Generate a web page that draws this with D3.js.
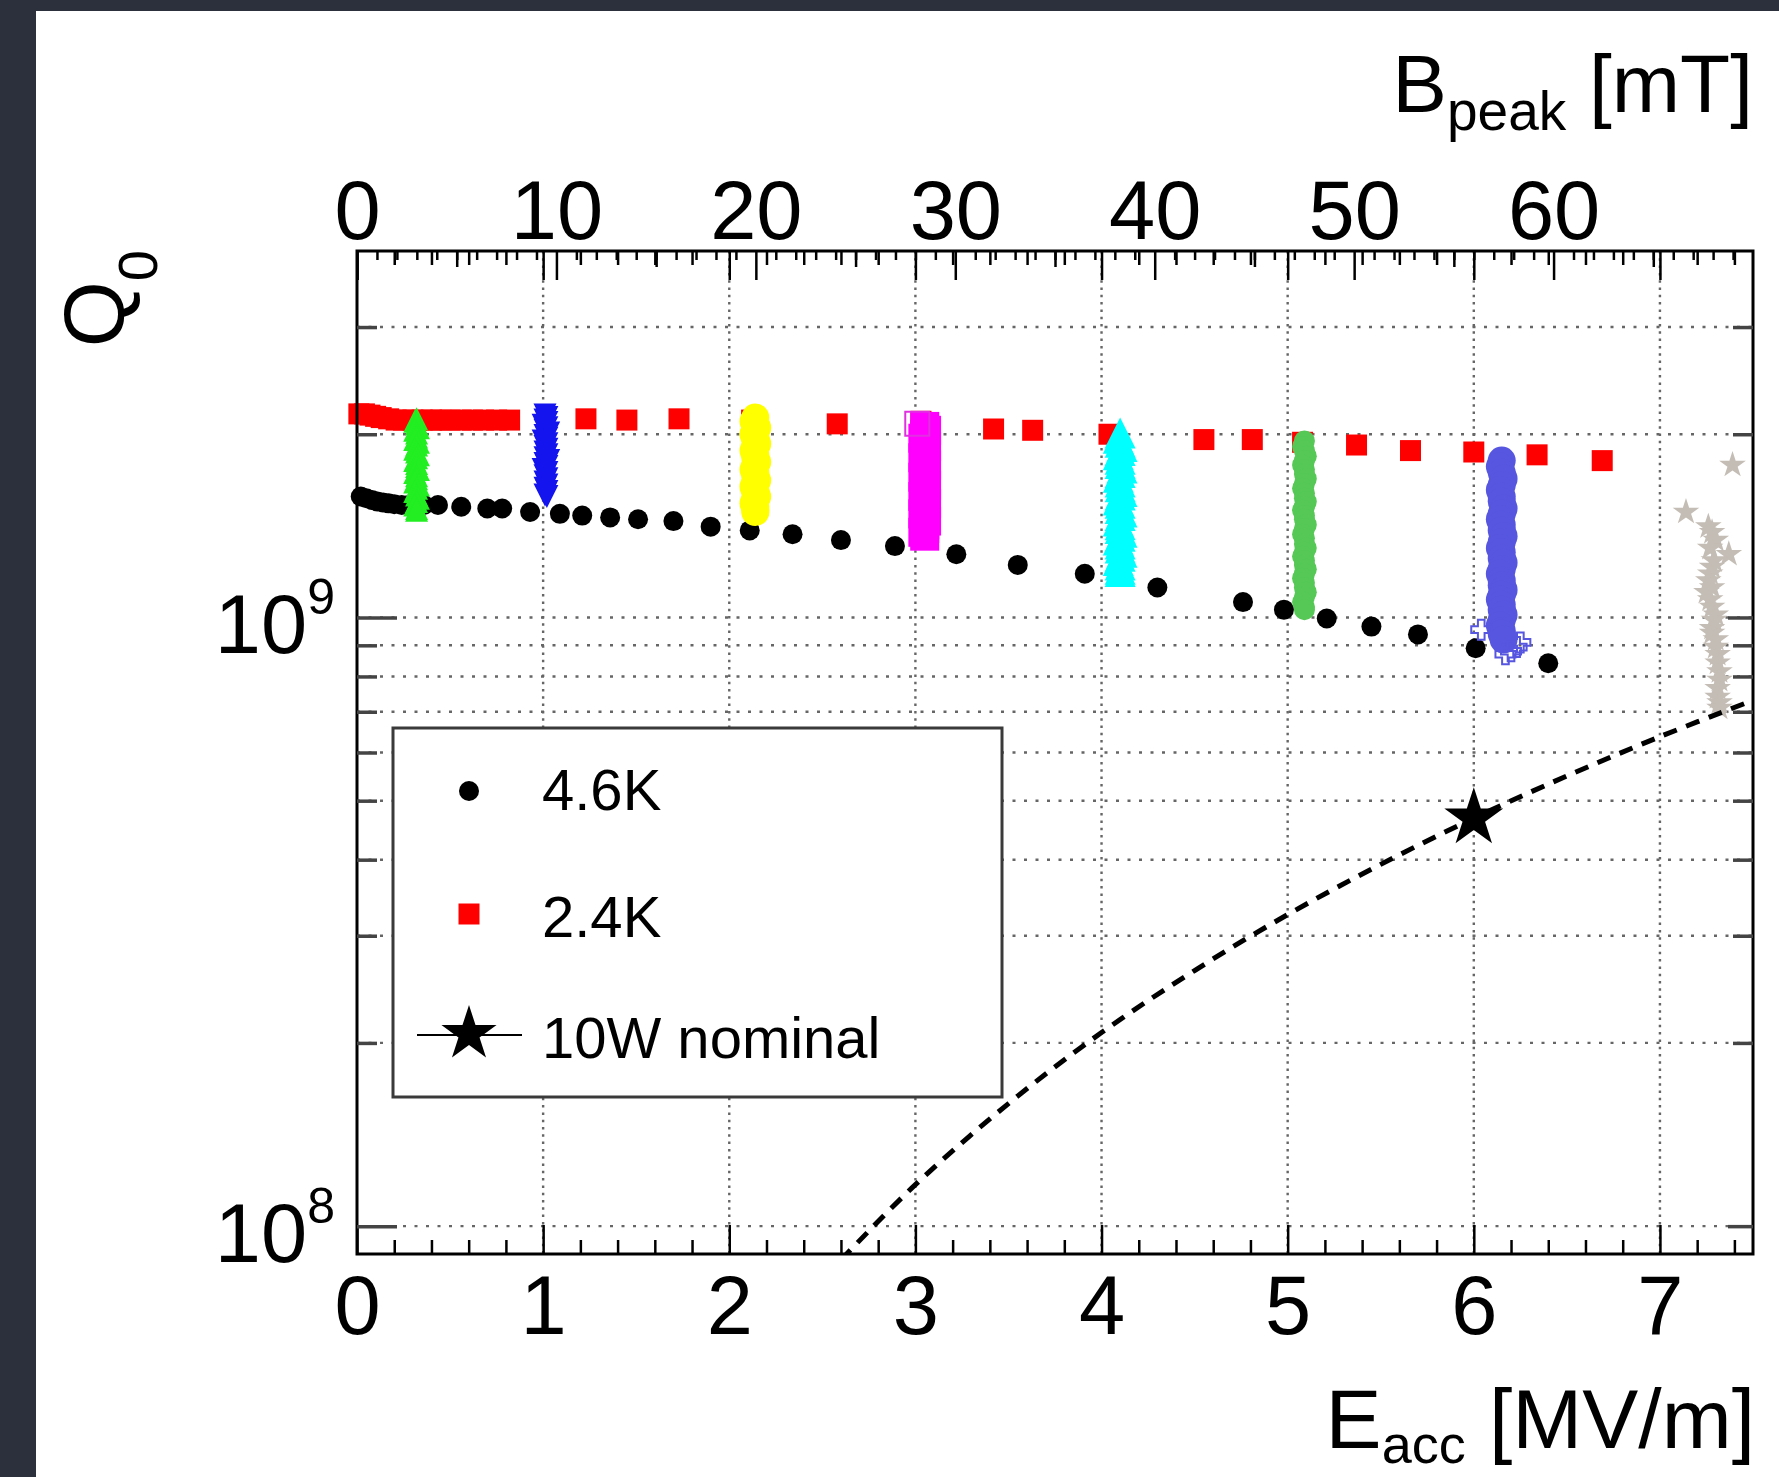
<!DOCTYPE html>
<html>
<head>
<meta charset="utf-8">
<script src="https://cdn.jsdelivr.net/npm/d3@7"></script>
<style>
  body { margin: 0; background: #2b303c; }
  svg { display: block; }
</style>
</head>
<body>
<div id="chart-area"></div>
<script>
// Q0 values below are in units of 1e9
var eTicks = [0, 1, 2, 3, 4, 5, 6, 7];
var bTicks = [0, 10, 20, 30, 40, 50, 60];
var qLabelTicks = [1e8, 1e9];
var qGrid = [1e8, 2e8, 3e8, 4e8, 5e8, 6e8, 7e8, 8e8, 9e8, 1e9, 2e9, 3e9];
var eGrid = [1, 2, 3, 4, 5, 6, 7];

// 4.6K
var e46 = [0.02, 0.05, 0.08, 0.11, 0.14, 0.17, 0.20, 0.24, 0.28, 0.32, 0.36, 0.435, 0.56, 0.70, 0.78, 0.93,
           1.09, 1.21, 1.36, 1.51, 1.70, 1.90, 2.11, 2.34, 2.60, 2.89, 3.22, 3.55, 3.91, 4.30, 4.76, 4.98,
           5.21, 5.45, 5.70, 6.01, 6.40];
var q46 = [1.58, 1.57, 1.56, 1.55, 1.545, 1.54, 1.535, 1.53, 1.53, 1.53, 1.53, 1.53, 1.52, 1.51, 1.51, 1.49,
           1.48, 1.47, 1.46, 1.45, 1.44, 1.41, 1.39, 1.37, 1.34, 1.31, 1.27, 1.22, 1.18, 1.12, 1.06, 1.03,
           0.996, 0.966, 0.938, 0.890, 0.841];

// 2.4K
var e24 = [0.01, 0.04, 0.07, 0.10, 0.13, 0.17, 0.21, 0.25, 0.30, 0.35, 0.40, 0.45, 0.50, 0.56, 0.62, 0.68,
           0.75, 0.82, 1.23, 1.45, 1.73, 2.12, 2.58, 3.03, 3.42, 3.63, 4.04, 4.55, 4.81, 5.08, 5.37, 5.66,
           6.00, 6.34, 6.69];
var q24 = [2.16, 2.16, 2.15, 2.14, 2.13, 2.12, 2.11, 2.11, 2.11, 2.11, 2.11, 2.11, 2.11, 2.11, 2.11, 2.11,
           2.11, 2.11, 2.12, 2.11, 2.12, 2.11, 2.08, 2.10, 2.04, 2.03, 2.00, 1.96, 1.96, 1.94, 1.92, 1.88,
           1.87, 1.85, 1.81];

// individual measurement runs
var eRunGreen = [0.32, 0.31, 0.32, 0.33, 0.31, 0.32, 0.32, 0.31, 0.33, 0.32, 0.31, 0.32, 0.33, 0.32, 0.31, 0.32,
                 0.32, 0.33, 0.31, 0.32, 0.32, 0.31, 0.33, 0.32, 0.31, 0.32, 0.33, 0.32, 0.31, 0.32, 0.32];
var qRunGreen = [2.12, 2.10, 2.08, 2.05, 2.03, 2.01, 1.98, 1.96, 1.94, 1.92, 1.89, 1.87, 1.85, 1.83, 1.81, 1.79,
                 1.77, 1.75, 1.73, 1.71, 1.69, 1.67, 1.65, 1.63, 1.61, 1.59, 1.57, 1.55, 1.53, 1.51, 1.50];

var eRunBlue = [1.01, 1.02, 1.01, 1.02, 1.00, 1.02, 1.01, 1.03, 1.01, 1.02, 1.00, 1.02, 1.01, 1.02, 1.01,
                1.02, 1.01, 1.03, 1.01, 1.02, 1.00, 1.02, 1.01, 1.02, 1.01, 1.02, 1.01, 1.02, 1.01, 1.02];
var qRunBlue = [2.15, 2.13, 2.11, 2.09, 2.07, 2.05, 2.03, 2.01, 1.99, 1.97, 1.95, 1.93, 1.91, 1.89, 1.87,
                1.85, 1.83, 1.81, 1.79, 1.77, 1.75, 1.73, 1.71, 1.69, 1.67, 1.65, 1.63, 1.61, 1.59, 1.58];

var eRunYellow = [2.14, 2.13, 2.14, 2.15, 2.14, 2.13, 2.14, 2.14, 2.15, 2.14, 2.13, 2.14, 2.14, 2.15, 2.14,
                  2.13, 2.14, 2.14, 2.15, 2.14, 2.13, 2.14, 2.14, 2.15, 2.14, 2.13, 2.14, 2.14, 2.14];
var qRunYellow = [2.13, 2.10, 2.08, 2.05, 2.03, 2.00, 1.98, 1.95, 1.93, 1.90, 1.88, 1.85, 1.83, 1.80, 1.78,
                  1.75, 1.73, 1.70, 1.68, 1.66, 1.64, 1.62, 1.60, 1.58, 1.56, 1.54, 1.52, 1.50, 1.49];

var eRunMagenta = [3.05, 3.06, 3.05, 3.04, 3.05, 3.06, 3.05, 3.05, 3.04, 3.05, 3.06, 3.05, 3.05, 3.04, 3.05,
                   3.06, 3.05, 3.05, 3.04, 3.05, 3.06, 3.05, 3.05, 3.04, 3.05, 3.06, 3.05, 3.05, 3.04, 3.05];
var qRunMagenta = [2.06, 2.03, 2.00, 1.97, 1.94, 1.91, 1.88, 1.85, 1.83, 1.80, 1.78, 1.75, 1.73, 1.70, 1.68,
                   1.65, 1.63, 1.60, 1.58, 1.56, 1.54, 1.52, 1.50, 1.48, 1.46, 1.44, 1.42, 1.40, 1.38, 1.36];

var eRunCyan = [4.10, 4.09, 4.10, 4.11, 4.10, 4.09, 4.10, 4.10, 4.11, 4.10, 4.09, 4.10, 4.10, 4.11, 4.10, 4.09, 4.10,
                4.10, 4.11, 4.10, 4.09, 4.10, 4.10, 4.11, 4.10, 4.09, 4.10, 4.10, 4.11, 4.10, 4.09, 4.10, 4.10, 4.10];
var qRunCyan = [2.01, 1.97, 1.94, 1.91, 1.88, 1.85, 1.82, 1.79, 1.76, 1.73, 1.70, 1.67, 1.64, 1.61, 1.59, 1.56, 1.54,
                1.51, 1.49, 1.47, 1.44, 1.42, 1.40, 1.38, 1.36, 1.34, 1.32, 1.30, 1.28, 1.26, 1.24, 1.22, 1.20, 1.19];

var eRunGreen2 = [5.09, 5.08, 5.09, 5.10, 5.09, 5.08, 5.09, 5.09, 5.10, 5.09, 5.08, 5.09, 5.09, 5.10, 5.09, 5.08, 5.09, 5.09, 5.10,
                  5.09, 5.08, 5.09, 5.09, 5.10, 5.09, 5.08, 5.09, 5.09, 5.10, 5.09, 5.08, 5.09, 5.09, 5.10, 5.09, 5.08, 5.09, 5.09];
var qRunGreen2 = [1.95, 1.91, 1.88, 1.84, 1.81, 1.78, 1.75, 1.72, 1.69, 1.66, 1.63, 1.60, 1.57, 1.55, 1.52, 1.50, 1.47, 1.45, 1.42,
                  1.40, 1.37, 1.35, 1.32, 1.30, 1.28, 1.26, 1.24, 1.22, 1.20, 1.18, 1.16, 1.14, 1.12, 1.10, 1.08, 1.06, 1.04, 1.03];

var eRunSlate = [6.15, 6.14, 6.15, 6.16, 6.15, 6.14, 6.15, 6.15, 6.16, 6.15, 6.14, 6.15, 6.15, 6.16, 6.15, 6.14, 6.15,
                 6.15, 6.16, 6.15, 6.14, 6.15, 6.15, 6.16, 6.15, 6.14, 6.15, 6.15, 6.16, 6.15, 6.14, 6.15, 6.15, 6.16];
var qRunSlate = [1.81, 1.77, 1.73, 1.69, 1.65, 1.62, 1.58, 1.55, 1.51, 1.48, 1.45, 1.42, 1.39, 1.36, 1.33, 1.30, 1.28,
                 1.25, 1.23, 1.20, 1.18, 1.15, 1.13, 1.11, 1.09, 1.07, 1.05, 1.03, 1.01, 0.99, 0.97, 0.95, 0.94, 0.92];
var eRunSlateOpen = [6.04, 6.17, 6.23, 6.25, 6.20];
var qRunSlateOpen = [0.955, 0.87, 0.894, 0.91, 0.88];

var eRunGray = [7.39, 7.14, 7.26, 7.28, 7.30, 7.27, 7.37, 7.29, 7.28, 7.27, 7.26, 7.28, 7.25, 7.27, 7.28,
                7.30, 7.29, 7.28, 7.28, 7.30, 7.30, 7.31, 7.31, 7.32, 7.32, 7.31, 7.31, 7.32, 7.32];
var qRunGray = [1.78, 1.49, 1.41, 1.38, 1.34, 1.30, 1.27, 1.24, 1.21, 1.18, 1.15, 1.12, 1.10, 1.07, 1.04,
                1.01, 0.99, 0.96, 0.943, 0.92, 0.894, 0.87, 0.842, 0.815, 0.789, 0.765, 0.740, 0.725, 0.710];

// 10 W nominal heat load curve
var eNominal = [2.6, 3.0, 3.5, 4.0, 4.5, 5.0, 5.5, 6.0, 6.5, 7.0, 7.5];
var qNominal = [0.088, 0.117, 0.159, 0.208, 0.263, 0.325, 0.393, 0.468, 0.549, 0.637, 0.731];
var eStar = [6.0];
var qStar = [0.468];

var W = 1779, H = 1477;
var plot = {left: 357, right: 1753, top: 251, bottom: 1254};
var font = "'Liberation Sans', Arial, Helvetica, sans-serif";

var svg = d3.select("#chart-area").append("svg")
            .attr("width", W)
            .attr("height", H);

svg.append("rect")
   .attr("x", 36).attr("y", 11)
   .attr("width", W - 36).attr("height", H - 11)
   .attr("fill", "#ffffff");

var x = d3.scaleLinear().domain([0, 7.5]).range([plot.left, plot.right]);
var xb = d3.scaleLinear().domain([0, 70]).range([plot.left, plot.right]);
var y = d3.scaleLog().domain([9e7, 4e9]).range([plot.bottom, plot.top]);

function pts(es, qs) {
  return es.map(function(e, i){ return {e: e, q: qs[i] * 1e9}; });
}

svg.append("clipPath").attr("id", "clip")
   .append("rect")
   .attr("x", plot.left).attr("y", plot.top)
   .attr("width", plot.right - plot.left)
   .attr("height", plot.bottom - plot.top);

// grid
var grid = svg.append("g").attr("class", "grid");
grid.selectAll("line.v").data(eGrid).enter().append("line")
    .attr("class", "v")
    .attr("x1", function(d){ return x(d); }).attr("x2", function(d){ return x(d); })
    .attr("y1", plot.top).attr("y2", plot.bottom)
    .attr("stroke", "#666").attr("stroke-width", 2.4)
    .attr("stroke-dasharray", "2.5,4.8");
grid.selectAll("line.h").data(qGrid).enter().append("line")
    .attr("class", "h")
    .attr("y1", function(d){ return y(d); }).attr("y2", function(d){ return y(d); })
    .attr("x1", plot.left).attr("x2", plot.right)
    .attr("stroke", "#666").attr("stroke-width", 2.4)
    .attr("stroke-dasharray", "3,8.5");

function shape(type, s) {
  var h = s / 2;
  if (type === "up") return "M0," + (-h) + "L" + h + "," + h + "L" + (-h) + "," + h + "Z";
  if (type === "down") return "M0," + h + "L" + h + "," + (-h) + "L" + (-h) + "," + (-h) + "Z";
  if (type === "square") return "M" + (-h) + "," + (-h) + "h" + s + "v" + s + "h" + (-s) + "Z";
  if (type === "cross") {
    var a = s / 6;
    return "M" + (-a) + "," + (-h) + "H" + a + "V" + (-a) + "H" + h + "V" + a + "H" + a + "V" + h +
           "H" + (-a) + "V" + a + "H" + (-h) + "V" + (-a) + "H" + (-a) + "Z";
  }
  if (type === "star") return d3.symbol().type(d3.symbolStar).size(s * s / 0.8908)();
  return d3.symbol().type(d3.symbolCircle).size(Math.PI * h * h)();
}

function drawSeries(data, type, size, color, open) {
  svg.append("g").selectAll("path").data(data).enter().append("path")
     .attr("transform", function(d){ return "translate(" + x(d.e) + "," + y(d.q) + ")"; })
     .attr("d", shape(type, size))
     .attr("fill", open ? "none" : color)
     .attr("stroke", open ? color : "none")
     .attr("stroke-width", 2);
}

drawSeries(pts(e24, q24), "square", 21, "#ff0000");
drawSeries(pts(e46, q46), "circle", 20, "#000000");

drawSeries(pts(eRunGreen, qRunGreen), "up", 23, "#22ee22");
drawSeries(pts(eRunBlue, qRunBlue), "down", 23, "#1414ee");
drawSeries(pts(eRunYellow, qRunYellow), "circle", 28, "#ffff00");
drawSeries(pts(eRunMagenta, qRunMagenta), "square", 29, "#ff00ff");
drawSeries([{e: 3.01, q: 2.08e9}], "square", 24, "#e030e0", true);
drawSeries(pts(eRunCyan, qRunCyan), "up", 31, "#00ffff");
drawSeries(pts(eRunGreen2, qRunGreen2), "circle", 21, "#55c855");
drawSeries(pts(eRunSlate, qRunSlate), "circle", 28, "#5656e0");
drawSeries(pts(eRunSlateOpen, qRunSlateOpen), "cross", 20, "#5656e0", true);
drawSeries(pts(eRunGray, qRunGray), "star", 14, "#c4bdb5");

// nominal curve
var line = d3.line()
             .x(function(d){ return x(d.e); })
             .y(function(d){ return y(d.q); })
             .curve(d3.curveCatmullRom);
svg.append("path")
   .datum(pts(eNominal, qNominal))
   .attr("clip-path", "url(#clip)")
   .attr("d", line)
   .attr("fill", "none")
   .attr("stroke", "#000")
   .attr("stroke-width", 5)
   .attr("stroke-dasharray", "14,10");
drawSeries(pts(eStar, qStar), "star", 31, "#000000");

// frame
svg.append("rect")
   .attr("x", plot.left).attr("y", plot.top)
   .attr("width", plot.right - plot.left)
   .attr("height", plot.bottom - plot.top)
   .attr("fill", "none").attr("stroke", "#000").attr("stroke-width", 3);

// axes
function styleAxis(g, color, w) {
  g.select(".domain").remove();
  g.selectAll(".tick line").attr("stroke", color).attr("stroke-width", w);
  g.attr("font-family", font).attr("font-size", 83);
  g.selectAll(".tick text").attr("fill", "#000");
}

var minorE = d3.range(0.2, 7.5, 0.2).filter(function(d){ return Math.abs(d - Math.round(d)) > 0.05; });
var minorB = d3.range(1, 70, 1).filter(function(d){ return d % 10 !== 0; });
var minorQ = qGrid.filter(function(d){ return qLabelTicks.indexOf(d) < 0; });

var bottomG = svg.append("g").attr("transform", "translate(0," + plot.bottom + ")");
bottomG.append("g").call(d3.axisBottom(x).tickValues(minorE).tickSize(-14).tickFormat(""))
       .call(function(g){ styleAxis(g, "#000", 2.5); });
bottomG.append("g").call(d3.axisBottom(x).tickValues(eTicks).tickSize(-29).tickPadding(21).tickFormat(d3.format("d")))
       .call(function(g){ styleAxis(g, "#000", 2.5); });

var topG = svg.append("g").attr("transform", "translate(0," + plot.top + ")");
topG.append("g").call(d3.axisTop(x).tickValues(minorE).tickSize(-14).tickFormat(""))
    .call(function(g){ styleAxis(g, "#000", 2.5); });
topG.append("g").call(d3.axisTop(x).tickValues(eTicks).tickSize(-29).tickFormat(""))
    .call(function(g){ styleAxis(g, "#000", 2.5); });
topG.append("g").call(d3.axisTop(xb).tickValues(minorB).tickSize(-9).tickFormat(""))
    .call(function(g){ styleAxis(g, "#000", 2.5); });
topG.append("g").call(d3.axisTop(xb).tickValues([5, 15, 25, 35, 45, 55, 65]).tickSize(-16).tickFormat(""))
    .call(function(g){ styleAxis(g, "#000", 2.5); });
topG.append("g").call(d3.axisTop(xb).tickValues(bTicks).tickSize(-29).tickPadding(12).tickFormat(d3.format("d")))
    .call(function(g){ styleAxis(g, "#000", 2.5); });

var leftG = svg.append("g").attr("transform", "translate(" + plot.left + ",0)");
leftG.append("g").call(d3.axisLeft(y).tickValues(minorQ).tickSize(-20).tickFormat(""))
     .call(function(g){ styleAxis(g, "#444", 3.5); });
leftG.append("g").call(d3.axisLeft(y).tickValues(qLabelTicks).tickSize(-40).tickPadding(22).tickFormat(""))
     .call(function(g){ styleAxis(g, "#444", 3.5); })
     .selectAll(".tick text")
     .attr("dy", 35)
     .each(function(d){
       var t = d3.select(this);
       t.append("tspan").text("10");
       t.append("tspan").attr("dy", -39).attr("font-size", 50).text(Math.round(Math.log10(d)));
     });

var rightG = svg.append("g").attr("transform", "translate(" + plot.right + ",0)");
rightG.append("g").call(d3.axisRight(y).tickValues(minorQ).tickSize(-20).tickFormat(""))
      .call(function(g){ styleAxis(g, "#444", 3.5); });
rightG.append("g").call(d3.axisRight(y).tickValues(qLabelTicks).tickSize(-25).tickFormat(""))
      .call(function(g){ styleAxis(g, "#444", 3.5); });

// axis titles
var bTitle = svg.append("text")
   .attr("x", plot.right).attr("y", 112)
   .attr("text-anchor", "end")
   .attr("font-family", font).attr("font-size", 82).attr("fill", "#000");
bTitle.append("tspan").text("B");
bTitle.append("tspan").attr("font-size", 55).attr("dy", 18).text("peak");
bTitle.append("tspan").attr("dy", -18).text(" [mT]");

var eTitle = svg.append("text")
   .attr("x", plot.right + 2).attr("y", 1448)
   .attr("text-anchor", "end")
   .attr("font-family", font).attr("font-size", 84).attr("fill", "#000");
eTitle.append("tspan").text("E");
eTitle.append("tspan").attr("font-size", 54).attr("dy", 15).text("acc");
eTitle.append("tspan").attr("dy", -15).text(" [MV/m]");

var qTitle = svg.append("text")
   .attr("transform", "translate(124," + (plot.top - 1) + ") rotate(-90)")
   .attr("text-anchor", "end")
   .attr("font-family", font).attr("font-size", 85).attr("fill", "#000");
qTitle.append("tspan").text("Q");
qTitle.append("tspan").attr("font-size", 56).attr("dy", 33).text("0");

// legend
var legend = svg.append("g").attr("font-family", font).attr("font-size", 58);
legend.append("rect")
      .attr("x", 393).attr("y", 728).attr("width", 609).attr("height", 369)
      .attr("fill", "#fff").attr("stroke", "#3a3a3a").attr("stroke-width", 3);
legend.append("path").attr("transform", "translate(469,791)").attr("d", shape("circle", 20)).attr("fill", "#000");
legend.append("text").attr("x", 542).attr("y", 810).text("4.6K");
legend.append("path").attr("transform", "translate(469,914)").attr("d", shape("square", 21)).attr("fill", "#ff0000");
legend.append("text").attr("x", 542).attr("y", 937).text("2.4K");
legend.append("line").attr("x1", 417).attr("x2", 522).attr("y1", 1035).attr("y2", 1035)
      .attr("stroke", "#000").attr("stroke-width", 2);
legend.append("path").attr("transform", "translate(469,1034)").attr("d", shape("star", 29)).attr("fill", "#000");
legend.append("text").attr("x", 542).attr("y", 1058).text("10W nominal");
</script>
</body>
</html>
